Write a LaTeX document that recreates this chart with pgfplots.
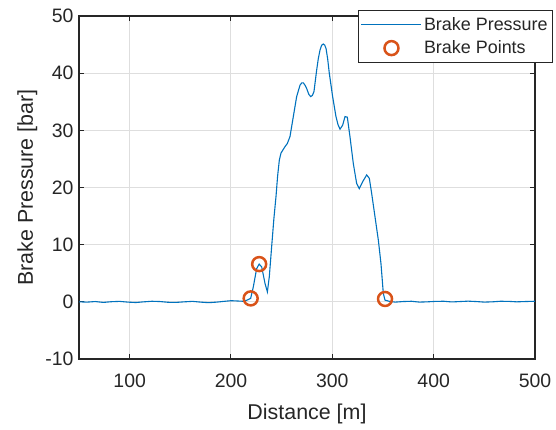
\documentclass[border=0pt]{standalone}
\usepackage{fontspec}
\setmainfont{Liberation Sans}
\usepackage{pgfplots}
\pgfplotsset{compat=1.18}
\definecolor{mblue}{rgb}{0,0.447,0.741}
\definecolor{morange}{rgb}{0.85,0.325,0.098}
\definecolor{maxis}{rgb}{0.15,0.15,0.15}
\definecolor{mgrid}{rgb}{0.87,0.87,0.87}
\begin{document}
\begin{tikzpicture}
\begin{axis}[
  name=ax,
  scale only axis,
  width=456bp, height=343bp,
  xmin=50, xmax=500, ymin=-10, ymax=50,
  xtick={100,200,300,400,500},
  ytick={-10,0,10,20,30,40,50},
  yticklabels={-10,0,10,20,30,40,50},
  /pgf/number format/assume math mode=true,
  tick align=inside,
  major tick length=5bp,
  axis line style={maxis, line width=1.1bp},
  every tick/.style={maxis, line width=1bp},
  grid=major,
  major grid style={mgrid, line width=1bp},
  ticklabel style={font=\fontsize{19.5}{23}\selectfont, text=maxis},
  yticklabel style={xshift=-2bp},
  xticklabel style={yshift=-11bp},
  label style={font=\fontsize{21.5}{25}\selectfont, text=maxis},
  xlabel={Distance [m]},
  ylabel={Brake Pressure [bar]},
  xlabel style={at={(axis description cs:0.5,0)}, anchor=base, yshift=-60bp},
  ylabel style={at={(axis description cs:-0.1009,0.5)}, anchor=base},
  legend style={at={(rel axis cs:1.0395,1.0175)}, anchor=north east,
    font=\fontsize{18}{21}\selectfont, text=maxis, draw=black!85, line width=0.8bp,
    inner xsep=3bp, inner ysep=5bp, row sep=5bp},
  legend cell align=left,
  legend image code/.code={\draw[mark repeat=2,mark phase=2,#1] plot coordinates {(0bp,0bp) (30bp,0bp) (60bp,0bp)};},
]
\addplot[color=mblue, line width=1.1bp] coordinates {
(50,0.0) (58,-0.05) (66,0.05) (74,-0.1) (82,0.02) (90,0.08) (98,-0.05) (106,-0.12)
(114,0.0) (122,0.1) (130,0.05) (138,-0.08) (146,-0.1) (154,0.0) (162,0.08) (170,-0.05)
(178,-0.15) (186,-0.05) (194,0.1) (200,0.2) (206,0.15) (212,0.1) (216,0.3) (219.4,0.6)
(222,2.6) (225.3,5.8) (227.8,6.6) (230.3,6.1) (233.6,3.2) (235.9,1.75) (237.8,4.4)
(240.1,9.6) (242.3,14.5) (244.4,18.4) (246,22) (247.7,24.8) (249.3,26) (251,26.5) (253.5,27.2) (255.6,27.7) (258.2,28.9) (261.5,32.4)
(264.8,35.9) (268.1,37.9) (269.8,38.3) (271.4,38.3) (273,37.9) (274.7,37.3) (276.8,36.3) (278.6,35.9) (280.3,36.1) (281.9,36.8) (284.5,40.5)
(286.2,42.6) (287.8,44) (289.5,44.9) (291.1,45.1) (292.5,44.9) (293.8,44.3) (295.4,42.5) (297,40) (300.3,35.9) (303.6,32.4) (305.6,31) (307.6,30.2)
(310.2,30.9) (312.5,32.4) (314.8,32.3) (317.4,28.9) (320.7,24.2) (324,20.7) (326.6,19.8)
(329.9,21) (333.9,22.2) (336.5,21.6) (338.8,19) (342.1,14.9) (345.4,10.8) (348,6.7)
(350.3,1.5) (352,0.3) (356,0.1) (362,-0.05) (370,0.05) (378,0.1) (386,-0.05) (394,0.0)
(402,0.08) (410,0.1) (418,-0.02) (426,0.05) (434,0.12) (442,0.05) (450,-0.05) (458,0.0)
(466,0.1) (474,0.08) (482,0.0) (490,0.05) (500,0.1)
};
\addlegendentry{Brake Pressure}
\addplot[only marks, mark=o, mark size=7bp, morange, mark options={line width=2.5bp}] coordinates {
(219.4,0.6) (227.8,6.6) (352,0.5)
};
\addlegendentry{Brake Points}
\end{axis}
\pgfresetboundingbox
\path[use as bounding box] ([shift={(-79bp,-71bp)}]ax.south west) rectangle ([shift={(477bp,359bp)}]ax.south west);
\end{tikzpicture}
\end{document}
